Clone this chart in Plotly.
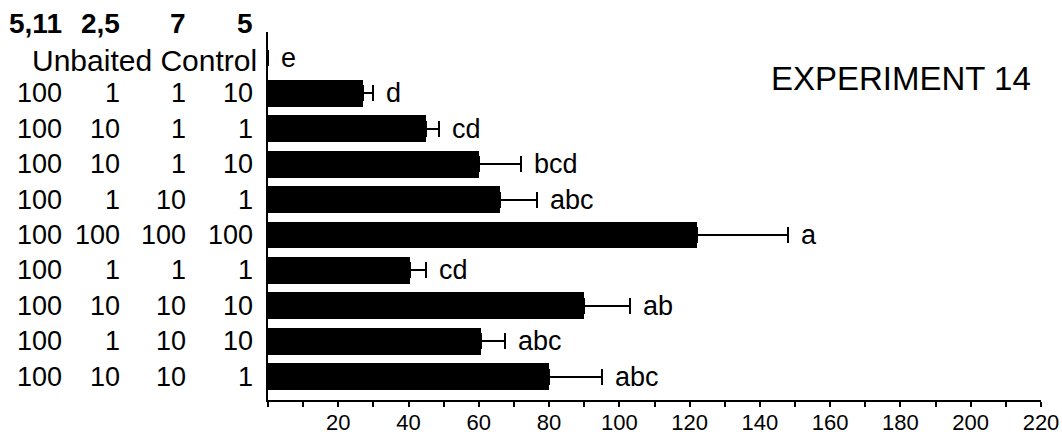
import plotly.graph_objects as go

# ---- data ----
row_idx = [0, 1, 2, 3, 4, 5, 6, 7, 8, 9]
col_headers = ["5,11", "2,5", "7", "5"]
col_511 = ["", "100", "100", "100", "100", "100", "100", "100", "100", "100"]
col_25 = ["", "1", "10", "10", "1", "100", "1", "10", "1", "10"]
col_7 = ["", "1", "1", "1", "10", "100", "1", "10", "10", "10"]
col_5 = ["", "10", "1", "10", "1", "100", "1", "10", "10", "1"]
control_label = "Unbaited Control"
means = [0, 27, 45, 60, 66, 122, 40.5, 90, 60.5, 80]
errs = [0, 3, 3.6, 12, 10.5, 26, 4.5, 13, 7, 15]
letters = ["e", "d", "cd", "bcd", "abc", "a", "cd", "ab", "abc", "abc"]
tick_vals = list(range(0, 230, 10))
tick_text = ["" if (v % 20 or v == 0) else str(v) for v in tick_vals]
title_text = "EXPERIMENT 14"

FONT = "Liberation Sans, Arial, sans-serif"

fig = go.Figure()
fig.add_trace(go.Bar(
    x=means, y=row_idx, orientation="h",
    marker=dict(color="black", line=dict(width=0)),
    width=0.76,
    error_x=dict(type="data", symmetric=False, array=errs,
                 arrayminus=[0] * len(errs), color="black",
                 thickness=2, width=8),
    showlegend=False, hoverinfo="skip",
))

annotations = []
# significance letters
for i, m, e, t in zip(row_idx, means, errs, letters):
    annotations.append(dict(x=m + e, y=i, xref="x", yref="y", text=t,
                            showarrow=False, xanchor="left", yanchor="middle",
                            xshift=11, font=dict(family=FONT, size=27, color="black")))

# left-hand table
col_right = [-0.264, -0.189, -0.104, -0.017]
for cx, h in zip(col_right, col_headers):
    annotations.append(dict(x=cx, y=1.024, xref="paper", yref="paper", text="<b>%s</b>" % h,
                            showarrow=False, xanchor="right", yanchor="middle",
                            font=dict(family=FONT, size=28, color="black")))
annotations.append(dict(x=-0.011, y=0.07, xref="paper", yref="y", text=control_label,
                        showarrow=False, xanchor="right", yanchor="middle",
                        font=dict(family=FONT, size=30, color="black")))
for col, cx in zip([col_511, col_25, col_7, col_5], col_right):
    for i, v in zip(row_idx, col):
        if v:
            annotations.append(dict(x=cx, y=i, xref="paper", yref="y", text=v,
                                    showarrow=False, xanchor="right", yanchor="middle",
                                    font=dict(family=FONT, size=27, color="black")))

annotations.append(dict(x=0.99, y=0.6, xref="paper", yref="y", text=title_text,
                        showarrow=False, xanchor="right", yanchor="middle",
                        font=dict(family=FONT, size=33, color="black")))

fig.update_layout(
    width=1062, height=435,
    margin=dict(l=268, r=21, t=32, b=35, autoexpand=False),
    plot_bgcolor="white", paper_bgcolor="white",
    annotations=annotations,
    bargap=0,
    xaxis=dict(range=[0, 220], tickvals=tick_vals, ticktext=tick_text,
               ticks="outside", ticklen=5, tickwidth=2, tickcolor="black",
               ticklabelstandoff=-3,
               showline=True, linewidth=2, linecolor="black",
               showgrid=False, zeroline=False, automargin=False,
               tickfont=dict(family=FONT, size=22, color="black")),
    yaxis=dict(range=[9.65, -0.72], showticklabels=False, ticks="",
               showline=True, linewidth=2, linecolor="black",
               showgrid=False, zeroline=False, automargin=False),
)

fig.write_html(
    "out.html",
    config={"displayModeBar": False, "staticPlot": True},
    post_script="document.body.style.margin='0';document.body.style.overflow='hidden';",
)
